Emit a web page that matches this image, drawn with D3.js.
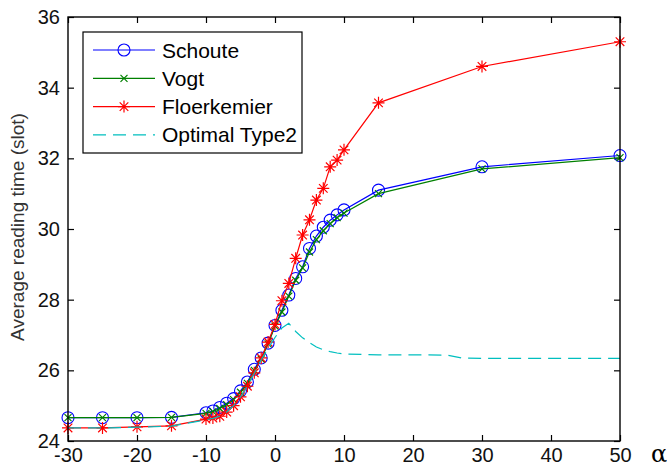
<!DOCTYPE html>
<html>
<head>
<meta charset="utf-8">
<script src="https://cdn.jsdelivr.net/npm/d3@7"></script>
<style>
body { margin: 0; background: #fff; }
text { font-family: Arial, "Liberation Sans", sans-serif; fill: #000; }
</style>
</head>
<body>
<script>
// alpha values where the three schemes were simulated
var alphas = [-30, -25, -20, -15, -10, -9, -8, -7, -6, -5, -4, -3, -2, -1, 0,
	      1, 2, 3, 4, 5, 6, 7, 8, 9, 10, 15, 30, 50];
var schoute = [24.66, 24.66, 24.66, 24.67, 24.8, 24.85, 24.95, 25.07, 25.2, 25.42, 25.67,
	       26.03, 26.35, 26.77, 27.27, 27.7, 28.13, 28.6, 28.93, 29.45, 29.8, 30.05,
	       30.25, 30.4, 30.54, 31.1, 31.76, 32.08];
var vogt = [24.66, 24.66, 24.66, 24.67, 24.78, 24.83, 24.92, 25.03, 25.17, 25.38, 25.63,
	    26.0, 26.32, 26.75, 27.25, 27.65, 28.1, 28.55, 28.9, 29.35, 29.7, 29.95,
	    30.15, 30.32, 30.45, 31.0, 31.7, 32.02];
var floerkemier = [24.37, 24.37, 24.4, 24.43, 24.62, 24.65, 24.7, 24.82, 25.0, 25.25, 25.55,
		   25.93, 26.35, 26.8, 27.3, 27.97, 28.46, 29.17, 29.83, 30.26, 30.82, 31.15,
		   31.76, 31.95, 32.24, 33.57, 34.6, 35.3];
// optimal type2 curve is sampled a bit differently
var optAlphas = [-30, -25, -20, -15, -10, -9, -8, -7, -6, -5, -4, -3, -2, -1, 0,
		 1, 2, 3, 4, 5, 6, 7, 8, 9, 10, 15, 20, 25, 27, 30, 40, 50];
var optimal = [24.37, 24.37, 24.39, 24.42, 24.6, 24.64, 24.7, 24.82, 25.0, 25.25, 25.55,
	       25.92, 26.3, 26.62, 26.93, 27.2, 27.33, 27.1, 26.92, 26.78, 26.66, 26.58,
	       26.53, 26.49, 26.46, 26.44, 26.44, 26.43, 26.35, 26.34, 26.34, 26.34];
var seriesNames = ['Schoute', 'Vogt', 'Floerkemier', 'Optimal Type2'];
var xTicks = [-30, -20, -10, 0, 10, 20, 30, 40, 50];
var yTicks = [24, 26, 28, 30, 32, 34, 36];

var width = 667, height = 471;
var pLeft = 68, pRight = 620, pTop = 17, pBottom = 441;

var x = d3.scaleLinear().domain([-30, 50]).range([pLeft, pRight]);
var y = d3.scaleLinear().domain([24, 36]).range([pBottom, pTop]);

var svg = d3.select('body').append('svg')
    .attr('width', width)
    .attr('height', height);

function zip(xs, ys) {
    return xs.map(function(a, i) { return {a: a, v: ys[i]}; });
}

var series = [
    {name: seriesNames[0], color: '#0000ff', marker: 'circle', dash: null, data: zip(alphas, schoute)},
    {name: seriesNames[1], color: '#008000', marker: 'x', dash: null, data: zip(alphas, vogt)},
    {name: seriesNames[2], color: '#ff0000', marker: 'star', dash: null, data: zip(alphas, floerkemier)},
    {name: seriesNames[3], color: '#00bfbf', marker: null, dash: '13,7', data: zip(optAlphas, optimal)}
];

function markerPath(type) {
    if (type == 'x') {
	var s = 3.5;
	return 'M' + -s + ',' + -s + 'L' + s + ',' + s + 'M' + -s + ',' + s + 'L' + s + ',' + -s;
    }
    if (type == 'star') {
	var r = 6, d = 4.3;
	return 'M0,' + -r + 'L0,' + r + 'M' + -r + ',0L' + r + ',0' +
	    'M' + -d + ',' + -d + 'L' + d + ',' + d + 'M' + -d + ',' + d + 'L' + d + ',' + -d;
    }
    return null;
}

function drawMarker(g, type, color) {
    if (type == 'circle') {
	g.append('circle')
	    .attr('r', 6)
	    .style('fill', 'none')
	    .style('stroke', color)
	    .style('stroke-width', 1.1);
    } else if (type) {
	g.append('path')
	    .attr('d', markerPath(type))
	    .style('fill', 'none')
	    .style('stroke', color)
	    .style('stroke-width', 1.2);
    }
}

// plain hyphen minus like the original figure
var numFmt = function(d) { return String(d); };

// axes: ticks point inward, on all four sides
var axisB = d3.axisBottom(x).tickValues(xTicks).tickSizeInner(-6).tickSizeOuter(0).tickPadding(10).tickFormat(numFmt);
var axisT = d3.axisTop(x).tickValues(xTicks).tickSizeInner(-6).tickSizeOuter(0).tickFormat('');
var axisL = d3.axisLeft(y).tickValues(yTicks).tickSizeInner(-6).tickSizeOuter(0).tickPadding(8).tickFormat(numFmt);
var axisR = d3.axisRight(y).tickValues(yTicks).tickSizeInner(-6).tickSizeOuter(0).tickFormat('');

function styleAxis(g) {
    g.select('.domain').remove();
    g.selectAll('line').style('stroke', '#000').style('stroke-width', 1.2);
    g.selectAll('text')
	.style('font-size', '20px')
	.style('font-family', 'Arial, "Liberation Sans", sans-serif')
	.style('fill', '#111');
}

svg.append('g').attr('transform', 'translate(0,' + pBottom + ')').call(axisB).call(styleAxis)
    .selectAll('text').attr('dy', '0.55em');
svg.append('g').attr('transform', 'translate(0,' + pTop + ')').call(axisT).call(styleAxis);
svg.append('g').attr('transform', 'translate(' + pLeft + ',0)').call(axisL).call(styleAxis);
svg.append('g').attr('transform', 'translate(' + pRight + ',0)').call(axisR).call(styleAxis);

// series lines + markers
var line = d3.line()
    .x(function(d) { return x(d.a); })
    .y(function(d) { return y(d.v); });

series.forEach(function(s) {
    svg.append('path')
	.datum(s.data)
	.attr('d', line)
	.style('fill', 'none')
	.style('stroke', s.color)
	.style('stroke-width', 1.2)
	.style('stroke-dasharray', s.dash);
    if (s.marker) {
	svg.selectAll('.m-' + s.marker)
	    .data(s.data)
	    .enter().append('g')
	    .attr('class', 'm-' + s.marker)
	    .attr('transform', function(d) {
		return 'translate(' + x(d.a) + ',' + y(d.v) + ')';
	    })
	    .each(function() { drawMarker(d3.select(this), s.marker, s.color); });
    }
});

// plot frame
svg.append('rect')
    .attr('x', pLeft)
    .attr('y', pTop)
    .attr('width', pRight - pLeft)
    .attr('height', pBottom - pTop)
    .style('fill', 'none')
    .style('stroke', '#000')
    .style('stroke-width', 1.4);

// legend
var legend = svg.append('g');
legend.append('rect')
    .attr('x', 83)
    .attr('y', 32)
    .attr('width', 219)
    .attr('height', 121)
    .style('fill', '#fff')
    .style('stroke', '#000')
    .style('stroke-width', 1.2);

var items = legend.selectAll('.item')
    .data(series)
    .enter().append('g')
    .attr('class', 'item')
    .attr('transform', function(d, i) { return 'translate(0,' + (50 + i * 28.3) + ')'; });

items.append('line')
    .attr('x1', 93)
    .attr('x2', 155)
    .style('stroke', function(d) { return d.color; })
    .style('stroke-width', 1.2)
    .style('stroke-dasharray', function(d) { return d.dash; });

items.each(function(d) {
    if (d.marker) {
	drawMarker(d3.select(this).append('g').attr('transform', 'translate(124,0)'), d.marker, d.color);
    }
});

items.append('text')
    .attr('x', 162)
    .attr('dy', '0.36em')
    .style('font-size', '21px')
    .text(function(d) { return d.name; });

// axis titles
svg.append('text')
    .attr('transform', 'translate(24,227) rotate(-90)')
    .attr('text-anchor', 'middle')
    .style('font-size', '19px')
    .style('fill', '#333')
    .text('Average reading time (slot)');

svg.append('text')
    .attr('x', 659)
    .attr('y', 462)
    .attr('text-anchor', 'middle')
    .style('font-family', '"DejaVu Serif", "Liberation Serif", serif')
    .style('font-size', '24px')
    .text('α');
</script>
</body>
</html>
